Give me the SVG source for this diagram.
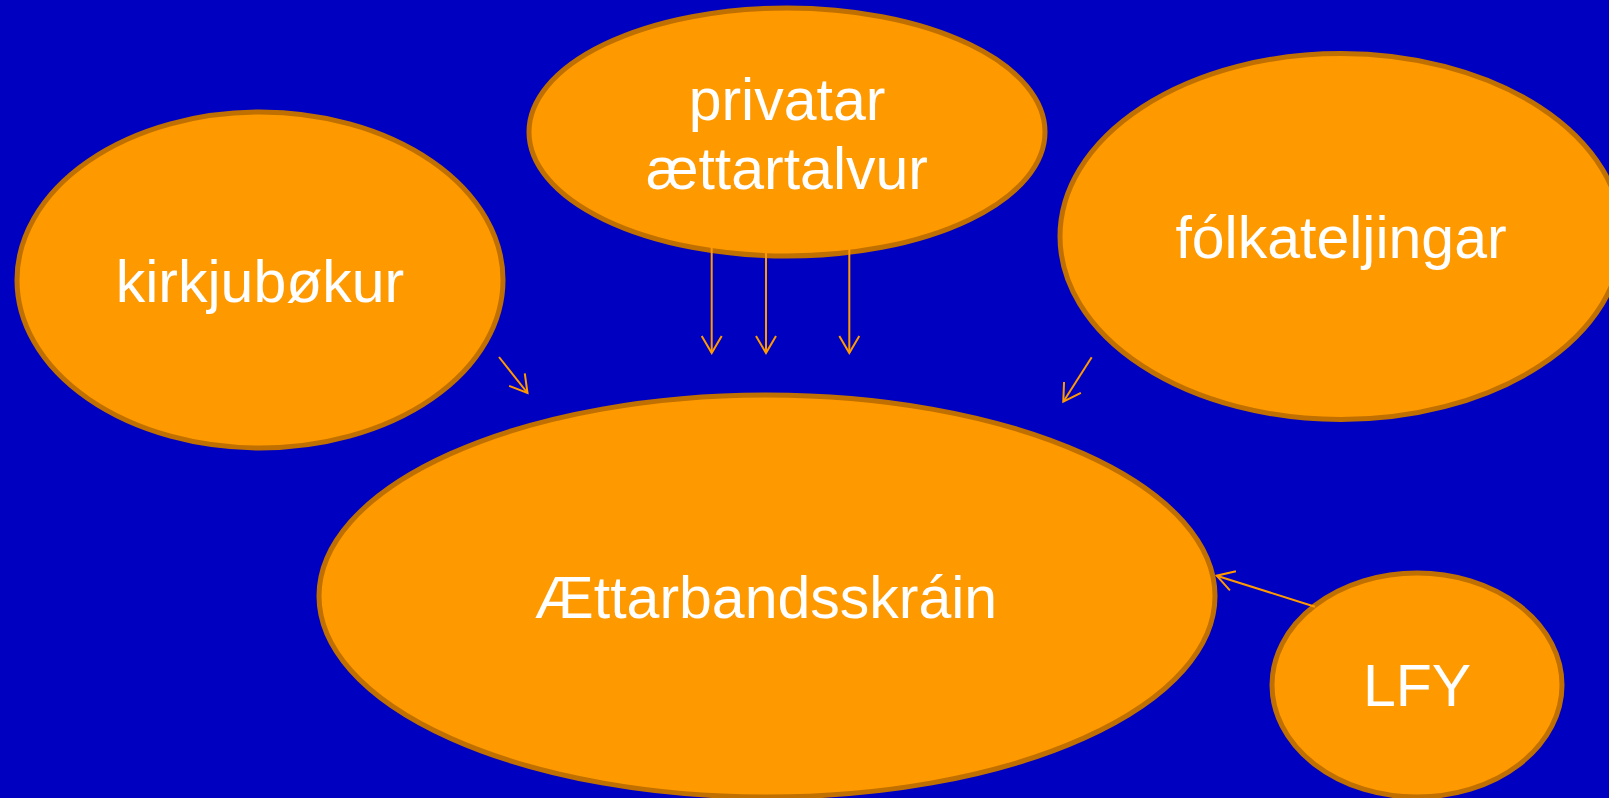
<svg xmlns="http://www.w3.org/2000/svg" width="1609" height="798" viewBox="0 0 1609 798">
<style>
.node{fill:#ff9900;stroke:#c07000;stroke-width:5}
.lbl{fill:#ffffff;font-family:"Liberation Sans",Arial,sans-serif;font-size:59px;text-anchor:middle}
.conn{stroke:#ff9900;stroke-width:2;fill:none;marker-end:url(#arr)}
</style>
<defs>
<marker id="arr" markerUnits="userSpaceOnUse" viewBox="-20 -12 22 24" refX="0" refY="0" markerWidth="22" markerHeight="24" orient="auto">
<path d="M-17,-10 L0,0 L-17,10" fill="none" stroke="#ff9900" stroke-width="2"/>
</marker>
</defs>
<rect width="1609" height="798" fill="#0000c0"/>
<g id="kirkjubokur">
<ellipse class="node" cx="260" cy="280" rx="243" ry="168"/>
<text class="lbl" x="260" y="302">kirkjubøkur</text>
</g>
<g id="privatar">
<ellipse class="node" cx="787" cy="132" rx="258" ry="124"/>
<text class="lbl" x="787" y="120">privatar</text>
<text class="lbl" x="787" y="189">ættartalvur</text>
</g>
<g id="folkateljingar">
<ellipse class="node" cx="1341" cy="236.5" rx="281" ry="183"/>
<text class="lbl" x="1341" y="258">fólkateljingar</text>
</g>
<g id="aettarbandsskrain">
<ellipse class="node" cx="767" cy="596" rx="448" ry="201"/>
<text class="lbl" x="766" y="618">Ættarbandsskráin</text>
</g>
<g id="lfy">
<ellipse class="node" cx="1417" cy="685" rx="145" ry="112"/>
<text class="lbl" x="1417" y="706">LFY</text>
</g>
<g id="connectors">
<line class="conn" x1="499" y1="357" x2="527.5" y2="393"/>
<line class="conn" x1="711.7" y1="247" x2="711.7" y2="353"/>
<line class="conn" x1="766" y1="251" x2="766" y2="353"/>
<line class="conn" x1="849.3" y1="248" x2="849.3" y2="353"/>
<line class="conn" x1="1091.7" y1="357.3" x2="1063.3" y2="401.7"/>
<line class="conn" x1="1315" y1="606.7" x2="1216.7" y2="575.7"/>
</g>
</svg>
